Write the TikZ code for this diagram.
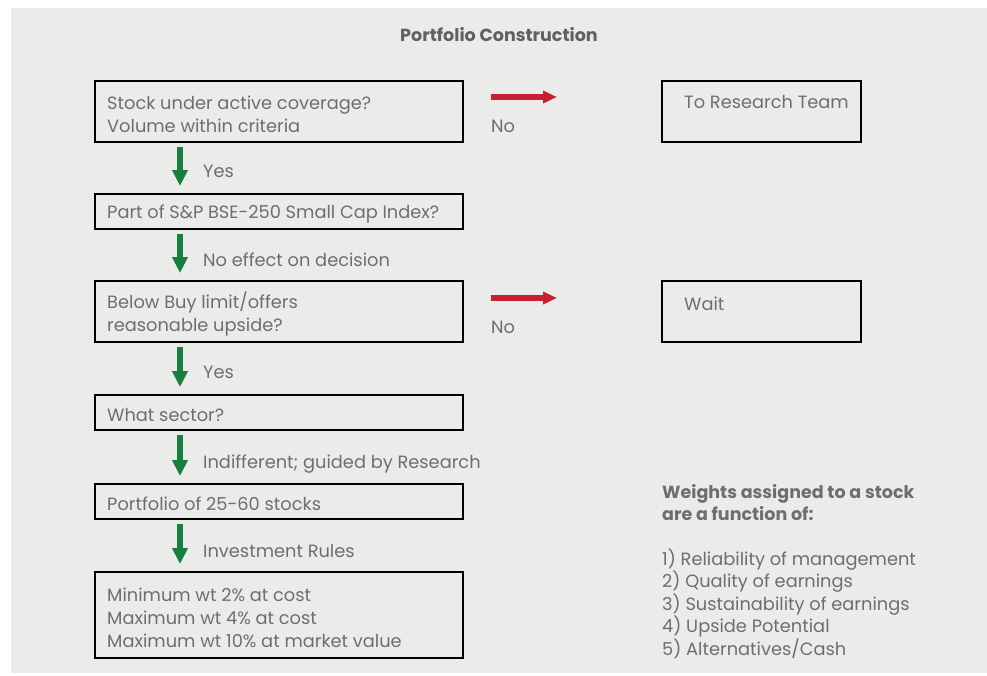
\documentclass[tikz,border=0pt]{standalone}
\usepackage{fontspec}
\setmainfont{Poppins}
\usetikzlibrary{arrows.meta}
\definecolor{bg}{HTML}{EBEBEA}
\definecolor{txt}{HTML}{6E6E6E}
\definecolor{ttl}{HTML}{606060}
\definecolor{redar}{HTML}{C8202E}
\definecolor{grar}{HTML}{17803E}
\begin{document}
\begin{tikzpicture}[x=1pt,y=-1pt,
 every node/.style={text=txt, font=\fontsize{17.8}{22.7}\selectfont},
 lbox/.style={draw=black, line width=2.8pt, rectangle, minimum width=368pt, inner sep=0pt, outer sep=0pt, anchor=north west},
 btxt/.style={anchor=west, align=left, inner sep=0pt},
 rbox/.style={draw=black, line width=2.8pt, rectangle, minimum width=199pt, minimum height=61pt, outer sep=0pt, anchor=north west},
 garrow/.style={draw=grar, line width=6pt, -{Triangle[width=15pt,length=16pt]}},
 rarrow/.style={draw=redar, line width=6pt, -{Triangle[width=12pt,length=14pt]}},
 lbl/.style={anchor=base west, inner sep=0pt},
 bld/.style={font=\fontsize{17.5}{20}\selectfont\bfseries}
]
\useasboundingbox (0,0) rectangle (987,675);
\fill[white] (0,0) rectangle (987,675);
\fill[bg] (11,8) rectangle (987,673);

\node[anchor=base, inner sep=0pt, text=ttl, bld] (title) at (499,41.5) {Portfolio Construction};

\node[lbox, minimum height=61pt] (b1) at (95,81) {};
\node[btxt] (b1t) at ([shift={(12,2.5)}]b1.west) {Stock under active coverage?\\Volume within criteria};
\node[lbox, minimum height=35pt] (b2) at (95,194) {};
\node[btxt] (b2t) at ([shift={(12,2.5)}]b2.west) {Part of S\&P BSE-250 Small Cap Index?};
\node[lbox, minimum height=61pt] (b3) at (95,281) {};
\node[btxt] (b3t) at ([shift={(12,2.5)}]b3.west) {Below Buy limit/offers\\reasonable upside?};
\node[lbox, minimum height=35pt] (b4) at (95,395) {};
\node[btxt] (b4t) at ([shift={(12,2.5)}]b4.west) {What sector?};
\node[lbox, minimum height=35pt] (b5) at (95,484) {};
\node[btxt] (b5t) at ([shift={(12,2.5)}]b5.west) {Portfolio of 25-60 stocks};
\node[lbox, minimum height=86pt] (b6) at (95,572) {};
\node[btxt] (b6t) at ([shift={(12,3)}]b6.west) {Minimum wt 2\% at cost\\Maximum wt 4\% at cost\\Maximum wt 10\% at market value};

\node[rbox] (r1) at (662,81) {};
\node[lbl] (r1t) at ([shift={(22,27)}]r1.north west) {To Research Team};
\node[rbox] (r2) at (662,281) {};
\node[lbl] (r2t) at ([shift={(22,29)}]r2.north west) {Wait};

\draw[rarrow] ([shift={(28,16)}]b1.north east) -- ([shift={(-105,16)}]r1.north west);
\draw[rarrow] ([shift={(28,17)}]b3.north east) -- ([shift={(-105,17)}]r2.north west);
\node[lbl] (no1) at (491,132) {No};
\node[lbl] (no2) at (491,333) {No};

\draw[garrow] ([shift={(85,5)}]b1.south west) -- ([shift={(85,-8)}]b2.north west);
\draw[garrow] ([shift={(85,5)}]b2.south west) -- ([shift={(85,-8)}]b3.north west);
\draw[garrow] ([shift={(85,5)}]b3.south west) -- ([shift={(85,-8)}]b4.north west);
\draw[garrow] ([shift={(85,5)}]b4.south west) -- ([shift={(85,-8)}]b5.north west);
\draw[garrow] ([shift={(85,5)}]b5.south west) -- ([shift={(85,-8)}]b6.north west);

\node[lbl] (l1) at (203,177) {Yes};
\node[lbl] (l2) at (203,266) {No effect on decision};
\node[lbl] (l3) at (203,378) {Yes};
\node[lbl] (l4) at (203,468) {Indifferent; guided by Research};
\node[lbl] (l5) at (203,557) {Investment Rules};

\node[lbl, bld] (w1) at (662,498) {Weights assigned to a stock};
\node[lbl, bld] (w2) at (662,520) {are a function of:};
\node[lbl] (f1) at (662,565) {1) Reliability of management};
\node[lbl] (f2) at (662,587.5) {2) Quality of earnings};
\node[lbl] (f3) at (662,610) {3) Sustainability of earnings};
\node[lbl] (f4) at (662,632.5) {4) Upside Potential};
\node[lbl] (f5) at (662,655) {5) Alternatives/Cash};
\end{tikzpicture}
\end{document}
